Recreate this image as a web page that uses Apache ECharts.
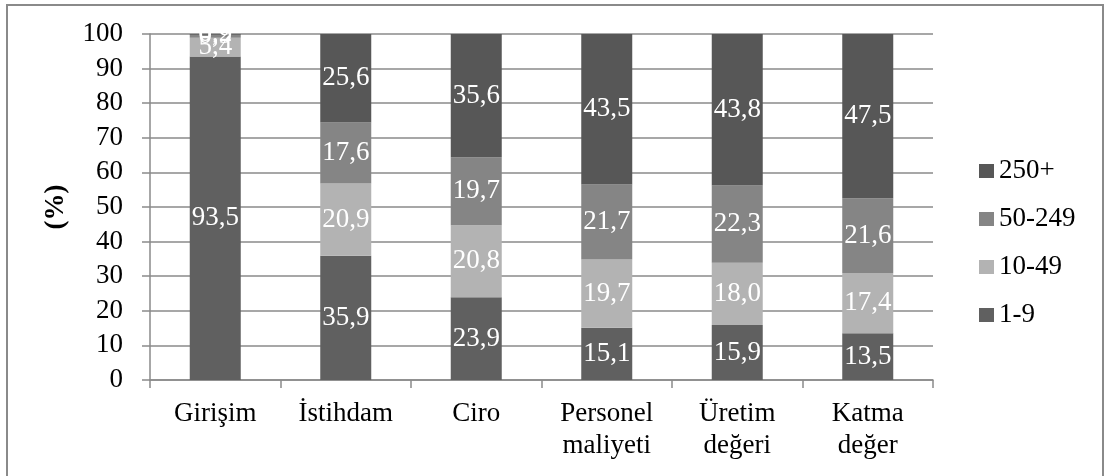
<!DOCTYPE html>
<html>
<head>
<meta charset="utf-8">
<script src="https://cdn.jsdelivr.net/npm/echarts@6/dist/echarts.min.js"></script>
<style>
  html, body { margin: 0; padding: 0; background: #fff; }
  #chart { width: 1105px; height: 476px; }
</style>
</head>
<body>
<div id="chart"></div>
<script>
// Share (%) of each size class across the indicators
const categories = ['Girişim', 'İstihdam', 'Ciro', 'Personel\nmaliyeti', 'Üretim\ndeğeri', 'Katma\ndeğer'];
const size1to9 = [93.5, 35.9, 23.9, 15.1, 15.9, 13.5];
const size10to49 = [5.4, 20.9, 20.8, 19.7, 18.0, 17.4];
const size50to249 = [0.9, 17.6, 19.7, 21.7, 22.3, 21.6];
const size250plus = [0.2, 25.6, 35.6, 43.5, 43.8, 47.5];
const seriesNames = ['1-9', '10-49', '50-249', '250+'];
const yTicks = [0, 10, 20, 30, 40, 50, 60, 70, 80, 90, 100];

const serif = '"Liberation Serif", "DejaVu Serif", serif';
const colors = ['#606060', '#b3b3b3', '#858585', '#575757'];
const seriesData = [size1to9, size10to49, size50to249, size250plus];

const chart = echarts.init(document.getElementById('chart'), null, { renderer: 'canvas' });

const series = seriesNames.map((name, i) => ({
  name: name,
  type: 'bar',
  stack: 'total',
  barWidth: 51,
  data: seriesData[i],
  itemStyle: { color: colors[i] },
  label: {
    show: true,
    position: 'inside',
    color: '#ffffff',
    fontFamily: serif,
    fontSize: 27,
    formatter: p => p.value.toFixed(1).replace('.', ',')
  },
  emphasis: { disabled: true }
}));

chart.setOption({
  animation: false,
  backgroundColor: '#ffffff',
  graphic: [{
    type: 'rect',
    shape: { x: 7, y: 5, width: 1096, height: 480 },
    style: { fill: 'none', stroke: '#8a8a8a', lineWidth: 2 },
    silent: true
  }],
  grid: { left: 150, right: 172, top: 34, bottom: 96, containLabel: false },
  legend: {
    data: ['250+', '50-249', '10-49', '1-9'],
    orient: 'vertical',
    left: 974,
    top: 151,
    itemWidth: 15,
    itemHeight: 14,
    itemGap: 18,
    icon: 'rect',
    textStyle: { fontFamily: serif, fontSize: 27, lineHeight: 30, color: '#000' }
  },
  xAxis: {
    type: 'category',
    data: categories,
    axisLine: { lineStyle: { color: '#8a8a8a', width: 1.5 } },
    axisTick: { show: true, length: 8, alignWithLabel: false, lineStyle: { color: '#8a8a8a', width: 1.5 } },
    axisLabel: {
      color: '#000',
      fontFamily: serif,
      fontSize: 27,
      lineHeight: 32,
      margin: 18,
      interval: 0
    }
  },
  yAxis: {
    type: 'value',
    min: yTicks[0],
    max: yTicks[yTicks.length - 1],
    interval: 10,
    name: '(%)',
    nameLocation: 'middle',
    nameGap: 80,
    nameRotate: 90,
    nameTextStyle: { fontFamily: serif, fontSize: 27, fontWeight: 'bold', color: '#000' },
    axisLine: { show: true, lineStyle: { color: '#8a8a8a', width: 1.5 } },
    axisTick: { show: true, length: 8, lineStyle: { color: '#8a8a8a', width: 1.5 } },
    axisLabel: { color: '#000', fontFamily: serif, fontSize: 27, margin: 27 },
    splitLine: { lineStyle: { color: '#8a8a8a', width: 1.5 } }
  },
  series: series
});
</script>
</body>
</html>
